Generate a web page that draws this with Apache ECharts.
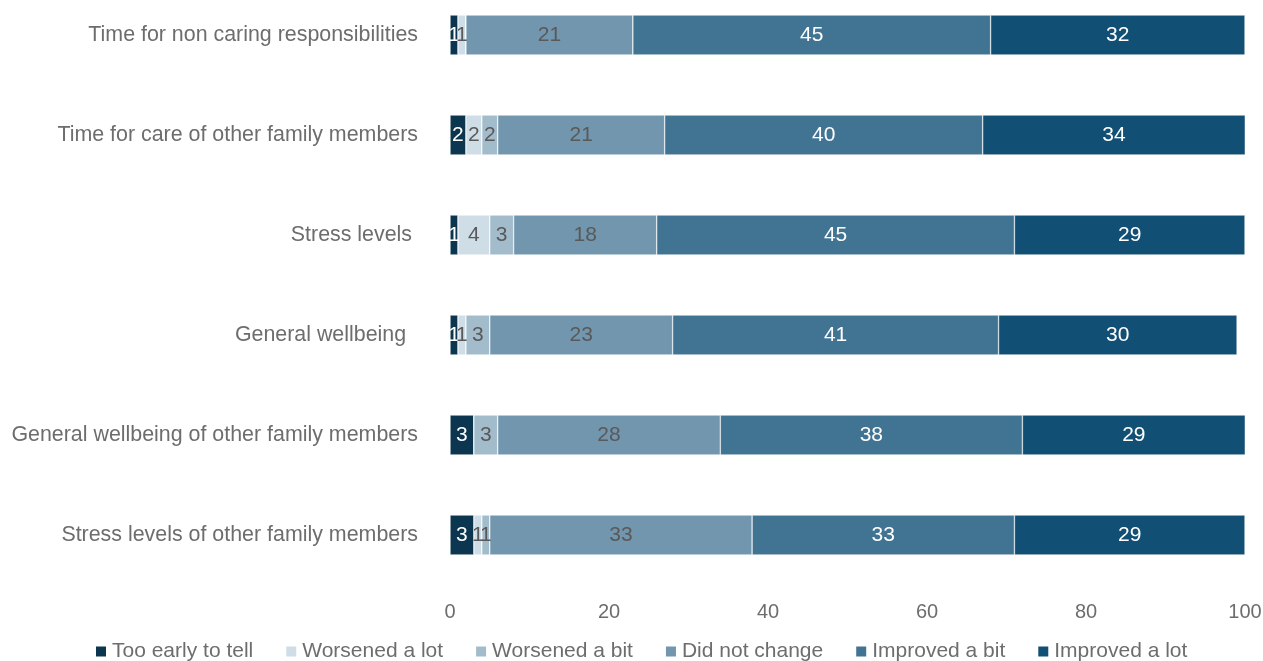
<!DOCTYPE html>
<html>
<head>
<meta charset="utf-8">
<script src="https://cdn.jsdelivr.net/npm/echarts@6/dist/echarts.min.js"></script>
<style>
  html, body { margin: 0; padding: 0; background: #fff; }
  #main { width: 1263px; height: 661px; }
</style>
</head>
<body>
<div id="main"></div>
<script>
// categories, top to bottom
var categories = [
  'Time for non caring responsibilities',
  'Time for care of other family members',
  'Stress levels ',
  'General wellbeing  ',
  'General wellbeing of other family members',
  'Stress levels of other family members'
];
var seriesNames = ['Too early to tell', 'Worsened a lot', 'Worsened a bit', 'Did not change', 'Improved a bit', 'Improved a lot'];
var tooEarly      = [1, 2, 1, 1, 3, 3];
var worsenedLot   = [1, 2, 4, 1, 0, 1];
var worsenedBit   = [0, 2, 3, 3, 3, 1];
var didNotChange  = [21, 21, 18, 23, 28, 33];
var improvedBit   = [45, 40, 45, 41, 38, 33];
var improvedLot   = [32, 34, 29, 30, 29, 29];
var xTicks = [0, 20, 40, 60, 80, 100];

var colors = ['#0c3650', '#cfdde6', '#a3bccb', '#7196ae', '#417393', '#124f74'];
var labelColors = ['#ffffff', '#595959', '#595959', '#595959', '#ffffff', '#ffffff'];
var seriesDatas = [tooEarly, worsenedLot, worsenedBit, didNotChange, improvedBit, improvedLot];

var myChart = echarts.init(document.getElementById('main'));

var series = [];
seriesNames.forEach(function (name, i) {
  series.push({
    name: name,
    type: 'bar',
    stack: 'total',
    barWidth: 40,
    data: seriesDatas[i],
    itemStyle: { color: colors[i], borderColor: '#ffffff', borderWidth: 0.5 },
    label: {
      show: true,
      position: 'inside',
      color: labelColors[i],
      fontSize: 21,
      fontFamily: 'Liberation Sans',
      formatter: function (p) { return p.value > 0 ? p.value : ''; }
    },
    emphasis: { disabled: true }
  });
});

var option = {
  animation: false,
  textStyle: { fontFamily: 'Liberation Sans' },
  // category ticks sit on the grid edges (boundaryGap false), so rows are 100px apart
  grid: {
    left: 450,
    right: 18,
    top: 35,
    bottom: 126,
    containLabel: false,
    outerBoundsMode: 'none'
  },
  legend: {
    bottom: -6,
    left: 89,
    itemWidth: 12,
    itemHeight: 12,
    itemGap: 31,
    icon: 'rect',
    textStyle: { color: '#6d6d6d', fontSize: 21, fontFamily: 'Liberation Sans' },
    data: seriesNames
  },
  xAxis: {
    type: 'value',
    min: xTicks[0],
    max: xTicks[xTicks.length - 1],
    interval: 20,
    axisLine: { show: false },
    axisTick: { show: false },
    splitLine: { show: false },
    axisLabel: { color: '#6d6d6d', fontSize: 20, margin: 67 }
  },
  yAxis: {
    type: 'category',
    inverse: true,
    boundaryGap: false,
    data: categories,
    axisLine: { show: false },
    axisTick: { show: false },
    splitLine: { show: false },
    axisLabel: { color: '#6d6d6d', fontSize: 21.4, margin: 32 }
  },
  series: series
};

myChart.setOption(option);
</script>
</body>
</html>
